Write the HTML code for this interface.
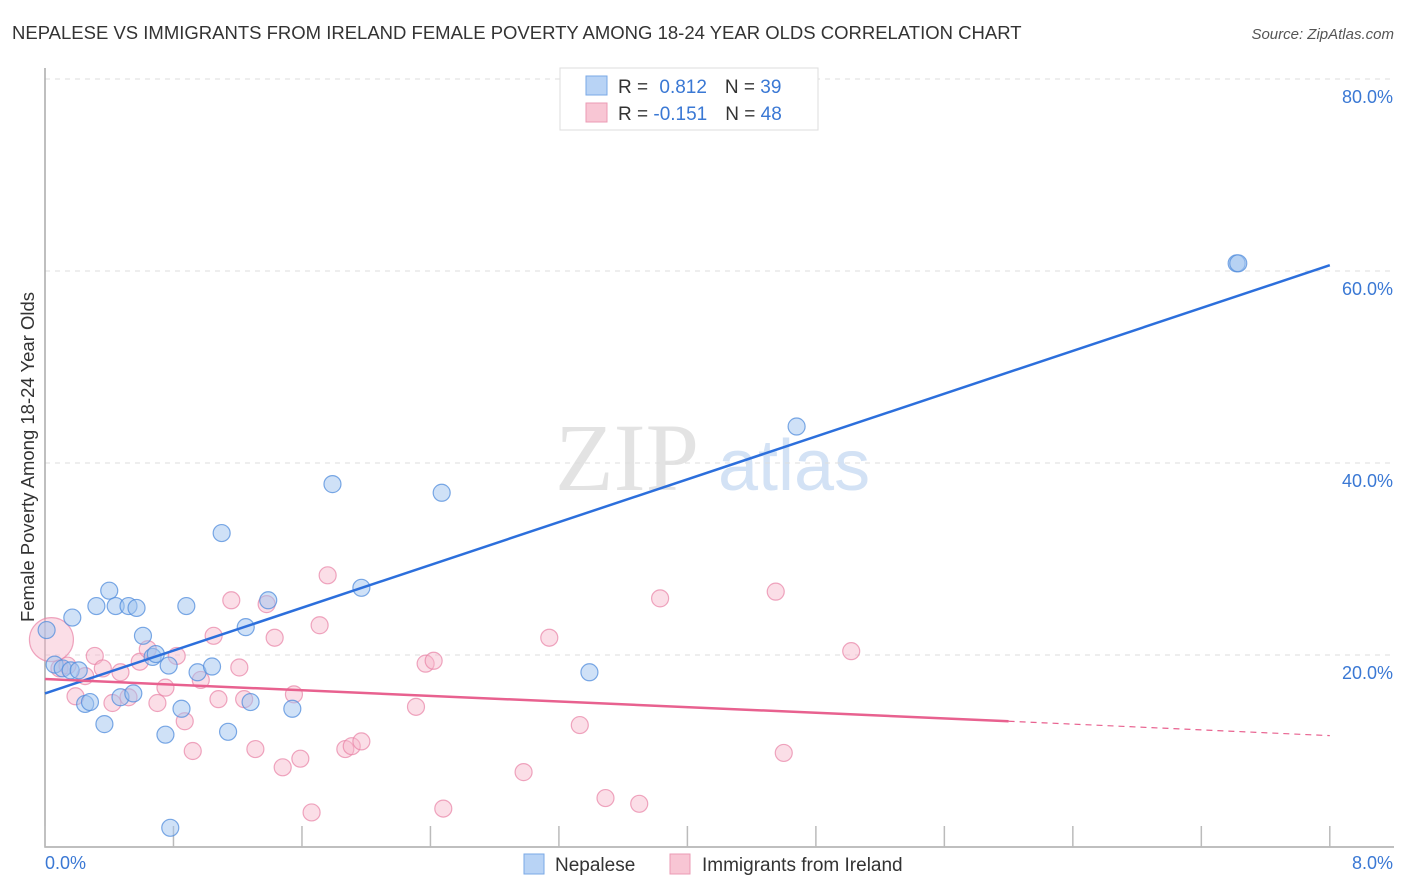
<!DOCTYPE html>
<html><head><meta charset="utf-8"><style>
body{margin:0;background:#fff;font-family:"Liberation Sans",sans-serif;}
svg{display:block}
</style></head><body>
<svg id="chart" width="1406" height="892">
<text x="12" y="39" font-size="18.5" fill="#333">NEPALESE VS IMMIGRANTS FROM IRELAND FEMALE POVERTY AMONG 18-24 YEAR OLDS CORRELATION CHART</text>
<text x="1394" y="39" font-size="15" fill="#555" font-style="italic" text-anchor="end">Source: ZipAtlas.com</text>
<text x="555" y="490" font-size="96" fill="#e3e3e3" font-family="Liberation Serif,serif">ZIP</text>
<text x="718" y="490" font-size="72" fill="#d3e2f5">atlas</text>
<g id="grid"></g>
<g id="pts"></g>
<g id="lines"></g>
<text transform="translate(34,457) rotate(-90)" font-size="18.5" fill="#333" text-anchor="middle">Female Poverty Among 18-24 Year Olds</text>
<text x="45" y="869" font-size="18" fill="#3a78d4">0.0%</text>
<text x="1393" y="869" font-size="18" fill="#3a78d4" text-anchor="end">8.0%</text>
<g>
<rect x="560" y="68" width="258" height="62" fill="#fff" stroke="#ddd"/>
<rect x="586" y="76" width="21" height="19" fill="#b8d3f5" stroke="#7aa8e6"/>
<rect x="586" y="103" width="21" height="19" fill="#f8c6d4" stroke="#eb9bb4"/>
<text x="618" y="93" font-size="19" fill="#333">R = <tspan fill="#3a78d4" dx="6">0.812</tspan><tspan dx="18" fill="#333">N = </tspan><tspan fill="#3a78d4">39</tspan></text>
<text x="618" y="120" font-size="19" fill="#333">R = <tspan fill="#3a78d4">-0.151</tspan><tspan dx="18" fill="#333">N = </tspan><tspan fill="#3a78d4">48</tspan></text>
</g>
<g>
<rect x="524" y="854" width="20" height="20" fill="#b8d3f5" stroke="#7aa8e6"/>
<text x="555" y="871" font-size="19" fill="#333">Nepalese</text>
<rect x="670" y="854" width="20" height="20" fill="#f8c6d4" stroke="#eb9bb4"/>
<text x="702" y="871" font-size="19" fill="#333">Immigrants from Ireland</text>
</g>
</svg>
<script>
const yTicks=[20,40,60,80];
const blueX=[0.01,0.06,0.11,0.16,0.17,0.21,0.25,0.28,0.32,0.37,0.40,0.44,0.47,0.52,0.55,0.57,0.61,0.67,0.69,0.75,0.77,0.78,0.85,0.88,0.95,1.04,1.10,1.14,1.25,1.28,1.39,1.54,1.79,1.97,2.47,3.39,4.68,7.42,7.43];
const blueY=[22.6,19.0,18.6,18.4,23.9,18.4,14.9,15.1,25.1,12.8,26.7,25.1,15.6,25.1,16.0,24.9,22.0,19.8,20.1,11.7,18.9,2.0,14.4,25.1,18.2,18.8,32.7,12.0,22.9,15.1,25.7,14.4,37.8,27.0,36.9,18.2,43.8,60.8,60.8];
const pinkX=[0.04,0.09,0.14,0.19,0.25,0.31,0.36,0.42,0.47,0.52,0.59,0.64,0.70,0.75,0.82,0.87,0.92,0.97,1.05,1.08,1.16,1.21,1.24,1.31,1.38,1.43,1.48,1.55,1.59,1.66,1.71,1.76,1.87,1.91,1.97,2.31,2.37,2.42,2.48,2.98,3.14,3.33,3.49,3.70,3.83,4.55,4.60,5.02];
const pinkY=[21.6,18.6,18.9,15.7,17.8,19.9,18.6,15.0,18.2,15.6,19.3,20.6,15.0,16.6,19.9,13.1,10.0,17.4,22.0,15.4,25.7,18.7,15.4,10.2,25.3,21.8,8.3,15.9,9.2,3.6,23.1,28.3,10.2,10.5,11.0,14.6,19.1,19.4,4.0,7.8,21.8,12.7,5.1,4.5,25.9,26.6,9.8,20.4];
const pinkR=[22];
const blueLine=[[0,16.0],[8,60.6]];
const pinkLine=[[0,17.5],[6,13.1],[8,11.6]];
const X=v=>45+v*160.6, Y=v=>847-v*9.6;
const NS="http://www.w3.org/2000/svg";
function mk(t,a,p){const e=document.createElementNS(NS,t);for(const k in a)e.setAttribute(k,a[k]);p.appendChild(e);return e;}
const grid=document.getElementById('grid');
yTicks.forEach(t=>{
 const l=mk('line',{x1:45,x2:1394,y1:Y(t),y2:Y(t),stroke:'#ddd','stroke-dasharray':'5,5'},grid);
 
 
 const tx=mk('text',{x:1393,y:Y(t)+24,'font-size':18,fill:'#3a78d4','text-anchor':'end'},grid);
 tx.textContent=t.toFixed(1)+'%';
 
 
});
const ax=mk('path',{d:'M45 68V847H1394',fill:'none',stroke:'#aaa','stroke-width':1.5},grid);


for(let i=0;i<=10;i++){
 const t=mk('line',{x1:X(i*0.8),x2:X(i*0.8),y1:826,y2:847,stroke:'#bbb','stroke-width':1.5},grid);
 
 
}
const pts=document.getElementById('pts');
pinkX.forEach((x,i)=>{
 const c=mk('circle',{cx:X(x),cy:Y(pinkY[i]),r:pinkR[i]||8.5,fill:'rgba(246,182,202,0.45)',stroke:'rgba(232,130,165,0.7)','stroke-width':1.2},pts);
 
 
});
blueX.forEach((x,i)=>{
 const c=mk('circle',{cx:X(x),cy:Y(blueY[i]),r:8.5,fill:'rgba(160,196,240,0.5)',stroke:'rgba(80,140,220,0.75)','stroke-width':1.2},pts);
 
 
});
const lines=document.getElementById('lines');
const bl=mk('line',{x1:X(blueLine[0][0]),y1:Y(blueLine[0][1]),x2:X(blueLine[1][0]),y2:Y(blueLine[1][1]),stroke:'#2c6fdc','stroke-width':2.5},lines);


const pl=mk('line',{x1:X(pinkLine[0][0]),y1:Y(pinkLine[0][1]),x2:X(pinkLine[1][0]),y2:Y(pinkLine[1][1]),stroke:'#e8618f','stroke-width':2.5},lines);


const pd=mk('line',{x1:X(pinkLine[1][0]),y1:Y(pinkLine[1][1]),x2:X(pinkLine[2][0]),y2:Y(pinkLine[2][1]),stroke:'#e8618f','stroke-width':1.2,'stroke-dasharray':'6,5'},lines);


</script>
</body></html>
